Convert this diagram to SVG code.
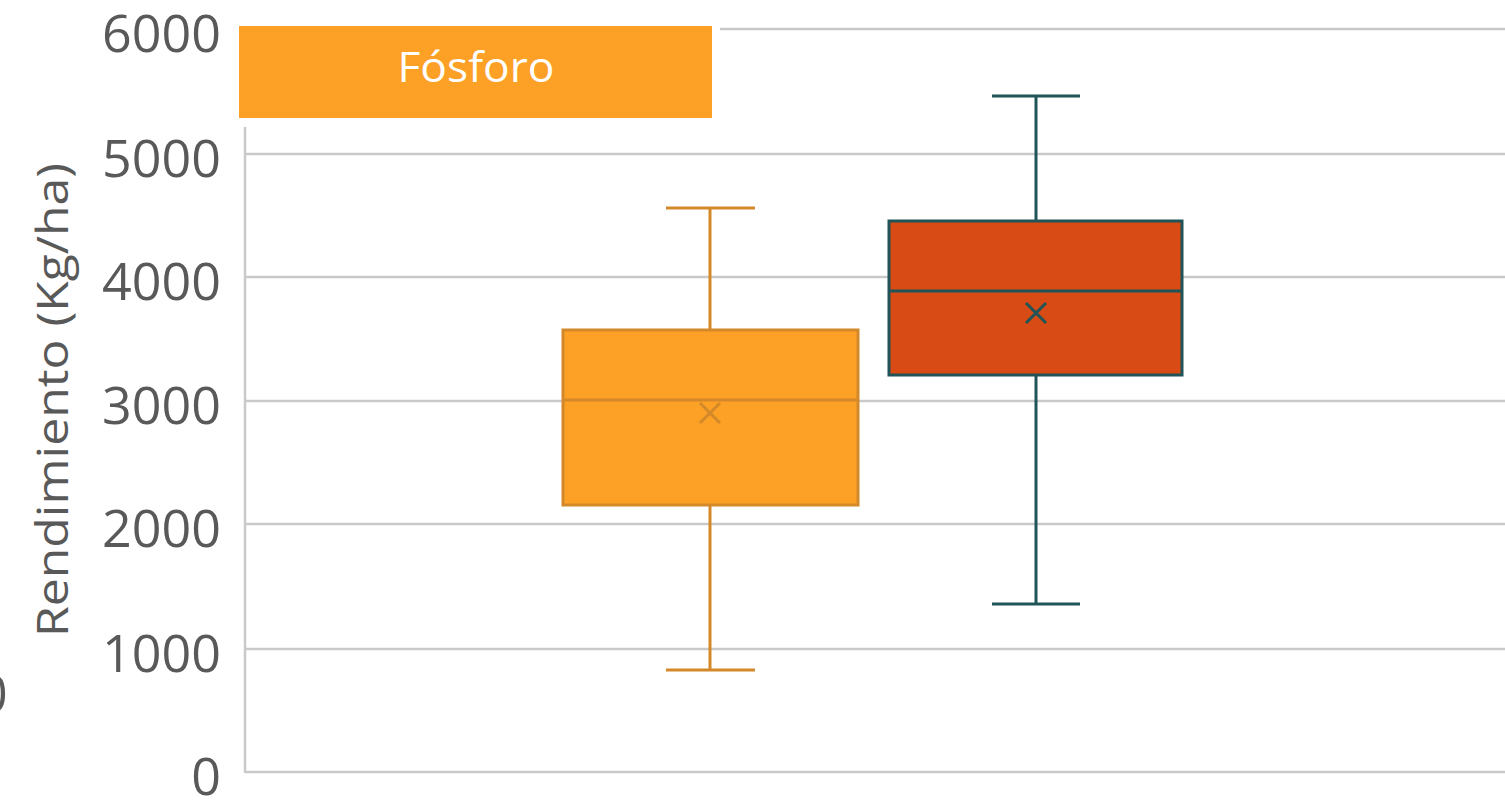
<svg xmlns="http://www.w3.org/2000/svg" width="1505" height="801" viewBox="0 0 1505 801">
<style>
.grid{stroke:#c9c9c9;stroke-width:2.5;fill:none}
.tick{font-family:"Open Sans","Noto Sans",sans-serif;font-size:52px;fill:#595959;text-anchor:end}
.o{fill:#fca026;stroke:#d3882a;stroke-width:3}
.ol{stroke:#d3882a;stroke-width:3;fill:none}
.r{fill:#d94b14;stroke:#215459;stroke-width:3}
.rl{stroke:#215459;stroke-width:3;fill:none}
</style>
<rect width="1505" height="801" fill="#ffffff"/>
<g id="grid">
<line class="grid" x1="720" y1="29" x2="1505" y2="29"/>
<line class="grid" x1="245" y1="154" x2="1505" y2="154"/>
<line class="grid" x1="245" y1="277" x2="1505" y2="277"/>
<line class="grid" x1="245" y1="401" x2="1505" y2="401"/>
<line class="grid" x1="245" y1="524" x2="1505" y2="524"/>
<line class="grid" x1="245" y1="649" x2="1505" y2="649"/>
<line class="grid" x1="245" y1="772" x2="1505" y2="772"/>
<line class="grid" x1="245" y1="127" x2="245" y2="773"/>
</g>
<g id="axis-labels">
<text class="tick" x="221" y="52">6000</text>
<text class="tick" x="221" y="177">5000</text>
<text class="tick" x="221" y="300">4000</text>
<text class="tick" x="221" y="424">3000</text>
<text class="tick" x="221" y="547">2000</text>
<text class="tick" x="221" y="672">1000</text>
<text class="tick" x="221" y="795">0</text>
<text x="-22" y="712" font-family="Open Sans, sans-serif" font-size="52" fill="#595959">0</text>
<text transform="translate(68,400) rotate(-90)" text-anchor="middle" font-family="Open Sans, sans-serif" font-size="44" textLength="474" lengthAdjust="spacingAndGlyphs" fill="#595959">Rendimiento (Kg/ha)</text>
</g>
<g id="legend">
<rect x="239" y="26" width="473" height="92" fill="#fca026"/>
<text x="476" y="82" text-anchor="middle" font-family="Open Sans, sans-serif" font-size="42" textLength="157" lengthAdjust="spacingAndGlyphs" fill="#ffffff">Fósforo</text>
</g>
<g id="box-orange">
<line class="ol" x1="710" y1="208" x2="710" y2="330"/>
<line class="ol" x1="666" y1="208" x2="755" y2="208"/>
<line class="ol" x1="710" y1="505" x2="710" y2="670"/>
<line class="ol" x1="666" y1="670" x2="755" y2="670"/>
<rect class="o" x="563" y="330" width="295" height="175"/>
<line class="ol" x1="563" y1="400" x2="858" y2="400"/>
<path class="ol" d="M700 403 L720 423 M720 403 L700 423" stroke-width="2.5"/>
</g>
<g id="box-red">
<line class="rl" x1="1036" y1="96" x2="1036" y2="221"/>
<line class="rl" x1="992" y1="96" x2="1080" y2="96"/>
<line class="rl" x1="1036" y1="375" x2="1036" y2="604"/>
<line class="rl" x1="992" y1="604" x2="1080" y2="604"/>
<rect class="r" x="889" y="221" width="293" height="154"/>
<line class="rl" x1="889" y1="291" x2="1182" y2="291"/>
<path class="rl" d="M1026 303 L1046 323 M1046 303 L1026 323" stroke-width="2.5"/>
</g>
</svg>
